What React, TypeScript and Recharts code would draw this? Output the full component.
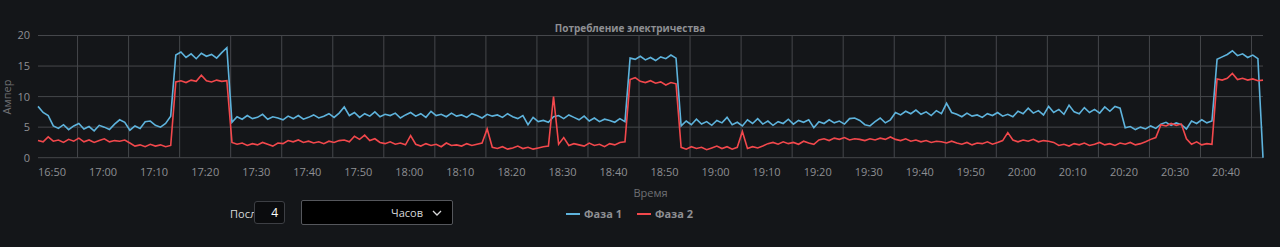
import React from "react";
import {
  LineChart,
  Line,
  XAxis,
  YAxis,
  CartesianGrid,
  Legend,
} from "recharts";

// sampling: one reading per minute, starting at 16:47:15
const startTime = "16:47:15";
const stepMinutes = 1;

const tickLabels = [
  "16:50", "17:00", "17:10", "17:20", "17:30", "17:40", "17:50", "18:00",
  "18:10", "18:20", "18:30", "18:40", "18:50", "19:00", "19:10", "19:20",
  "19:30", "19:40", "19:50", "20:00", "20:10", "20:20", "20:30", "20:40",
];
const yTicks = [0, 5, 10, 15, 20];

// Фаза 1, amps, split by hour
const phase1A = [
  8.4, 7.4, 6.9, 5.2, 4.8, 5.4, 4.6, 5.2, 5.6, 4.7,
  5.1, 4.4, 5.3, 5.0, 4.6, 5.5, 6.2, 5.8, 4.5, 5.2,
  4.8, 5.9, 6.0, 5.3, 5.0, 5.6, 6.8, 16.8, 17.3, 16.4,
  17.0, 16.2, 17.1, 16.6, 16.9, 16.3, 17.2, 18.0, 5.8, 6.7,
  6.3, 6.9, 6.4, 6.6, 7.1, 6.3, 6.7, 6.5, 6.2, 6.8,
  6.4, 6.9, 6.3, 6.6, 7.0, 6.5, 6.8, 7.2, 6.6, 7.3,
];
const phase1B = [
  8.3, 6.9, 7.4, 6.6, 7.2, 6.8, 7.5, 6.7, 7.1, 6.9,
  7.3, 6.5, 7.0, 7.4, 6.8, 7.2, 6.6, 7.6, 6.9, 7.1,
  6.7, 7.3, 6.8, 7.0, 6.6, 7.2, 6.9, 6.5, 7.1, 6.8,
  7.0, 6.6, 7.2, 6.7, 6.4, 6.9, 5.4, 6.6, 5.9, 6.1,
  5.8, 6.7, 6.9, 6.4, 7.0, 6.6, 6.2, 6.8, 6.0, 6.5,
  5.9, 6.3, 6.1, 5.8, 6.4, 5.9, 16.3, 16.1, 16.6, 16.0,
];
const phase1C = [
  16.4, 15.9, 16.5, 16.2, 16.8, 16.3, 5.2, 6.0, 5.4, 6.3,
  5.5, 5.9, 5.3, 6.1, 5.7, 6.6, 5.4, 5.8, 5.2, 6.2,
  5.6, 6.4, 5.5, 6.0, 5.3, 5.9, 5.6, 6.3, 5.5, 6.1,
  5.8, 6.2, 4.9, 5.9, 5.6, 6.2, 5.7, 6.0, 5.5, 6.4,
  6.5, 6.1, 5.4, 5.2, 5.9, 6.5, 5.7, 6.2, 7.4, 7.0,
  7.6, 7.2, 7.8, 7.1, 7.5, 6.9, 7.7, 7.2, 8.9, 7.4,
];
const phase1D = [
  7.1, 6.7, 7.3, 6.8, 7.0, 6.6, 7.2, 6.9, 7.4, 6.8,
  7.1, 6.7, 7.6, 7.2, 8.1, 7.3, 7.7, 7.0, 8.4, 7.4,
  7.9, 7.1, 8.6, 7.5, 7.2, 8.2, 7.4, 7.9, 7.3, 8.3,
  7.6, 8.4, 8.1, 4.9, 5.1, 4.6, 5.0, 4.7, 5.2, 4.8,
  5.5, 5.8, 5.3, 5.7, 5.4, 4.7, 6.0, 5.6, 6.2, 5.7,
  6.0, 16.1, 16.5, 16.9, 17.5, 16.7, 17.0, 16.4, 16.8, 16.2, 0,
];

// Фаза 2, amps, split by hour
const phase2A = [
  2.8, 2.6, 3.4, 2.7, 2.9, 2.5, 3.0, 2.7, 3.2, 2.6,
  2.9, 2.5, 2.8, 3.1, 2.6, 2.8, 2.7, 2.9, 2.4, 1.9,
  2.1, 1.8, 2.2, 1.9, 2.1, 1.8, 2.0, 12.4, 12.6, 12.3,
  12.7, 12.5, 13.5, 12.6, 12.4, 12.7, 12.5, 12.6, 2.5, 2.2,
  2.4, 2.0, 2.3, 2.1, 2.5, 2.2, 1.9, 2.4, 2.3, 2.8,
  2.6, 2.9, 2.5, 2.7, 2.4, 2.6, 2.3, 2.7, 2.5, 2.8,
];
const phase2B = [
  2.9, 2.6, 3.5, 3.0, 3.7, 2.8, 3.1, 2.5, 2.3, 2.6,
  2.2, 2.4, 2.1, 3.6, 2.2, 1.9, 2.3, 2.0, 2.2, 1.8,
  2.4, 2.0, 2.1, 1.9, 2.3, 2.0, 2.2, 2.4, 4.7, 1.7,
  1.5, 1.8, 1.4, 1.6, 1.9, 1.5, 1.7, 1.4, 1.6, 1.8,
  1.9, 10.0, 2.2, 3.3, 2.0, 2.3, 2.1, 1.9, 2.4, 2.0,
  2.2, 1.8, 2.3, 2.1, 2.5, 2.6, 12.8, 13.1, 12.5, 12.3,
];
const phase2C = [
  12.6, 12.2, 12.4, 11.9, 12.3, 12.1, 1.7, 1.4, 1.8, 1.5,
  1.7, 1.3, 1.6, 1.9, 1.5, 1.8, 1.4, 1.7, 4.3, 1.5,
  1.8, 1.6, 1.9, 2.3, 2.5, 2.2, 2.6, 2.3, 2.5, 2.2,
  2.7, 2.4, 2.2, 2.9, 3.1, 2.8, 3.2, 3.0, 3.3, 2.9,
  3.1, 3.0, 2.8, 3.1, 2.9, 3.2, 3.0, 3.4, 3.0, 2.8,
  3.1, 2.7, 2.9, 2.6, 2.8, 2.5, 2.7, 2.6, 2.4, 2.7,
];
const phase2D = [
  2.4, 2.2, 2.5, 2.1, 2.4, 2.3, 2.6, 2.2, 2.5, 2.8,
  4.1, 2.9, 2.6, 2.9, 2.7, 3.0, 2.6, 2.8, 2.7, 2.5,
  2.0, 2.2, 1.9, 2.3, 2.1, 2.4, 2.0, 2.2, 2.5, 2.1,
  2.3, 2.0, 2.4, 2.2, 2.5, 2.1, 2.3, 2.6, 3.0, 3.3,
  5.4, 5.2, 5.6, 5.3, 5.5, 3.1, 2.2, 2.6, 2.1, 2.3,
  2.2, 12.9, 12.7, 13.0, 13.8, 12.8, 13.0, 12.7, 12.9, 12.6, 12.7,
];

const toMinutes = (s: string) => {
  const [h, m, sec = 0] = s.split(":").map(Number);
  return h * 60 + m + sec / 60;
};
const fmt = (v: number) => {
  const h = Math.floor(v / 60);
  const m = Math.round(v - h * 60);
  return `${h}:${String(m).padStart(2, "0")}`;
};

const phase1 = [...phase1A, ...phase1B, ...phase1C, ...phase1D];
const phase2 = [...phase2A, ...phase2B, ...phase2C, ...phase2D];
const t0 = toMinutes(startTime);
const data = phase1.map((v, i) => ({
  t: t0 + i * stepMinutes,
  phase1: v,
  phase2: phase2[i],
}));
const tickValues = tickLabels.map(toMinutes);
// grid lines sit halfway between labels
const gridValues = tickValues.map((v) => v + 5);

const BG = "#141619";
const GRID = "#45474b";
const BLUE = "#5eb3dc";
const RED = "#f2484c";
const FONT = "'Open Sans', sans-serif";

const YTitle = () => (
  <text
    x={6}
    y={97}
    transform="rotate(-90, 6, 97)"
    textAnchor="middle"
    dominantBaseline="central"
    fill="#6f7074"
    fontSize={11}
    fontFamily={FONT}
  >
    Ампер
  </text>
);

const renderLegend = (props: any) => (
  <div style={{ display: "flex", gap: 15, fontFamily: FONT }}>
    {(props.payload || []).map((p: any) => (
      <div key={p.value} style={{ display: "flex", alignItems: "center" }}>
        <span
          style={{
            display: "inline-block",
            width: 14,
            height: 2,
            background: p.color,
            marginRight: 4,
          }}
        />
        <span style={{ color: "#8e8f93", fontSize: 11, fontWeight: 700 }}>
          {p.value}
        </span>
      </div>
    ))}
  </div>
);

export default function App() {
  return (
    <div style={{ position: "fixed", left: 0, top: 0, width: 1280, height: 247, background: BG }}>
      <div style={{ position: "relative", width: 1280, height: 247 }}>
        <div
          style={{
            position: "absolute",
            left: 0,
            top: 21,
            width: 1260,
            textAlign: "center",
            fontFamily: FONT,
            fontSize: 10,
            fontWeight: 700,
            lineHeight: "15px",
            color: "#8e8f93",
          }}
        >
          Потребление электричества
        </div>
        <LineChart
          width={1280}
          height={247}
          data={data}
          margin={{ top: 35.5, right: 17, left: 8, bottom: 0 }}
        >
          <CartesianGrid stroke={GRID} verticalValues={gridValues} />
          <XAxis
            dataKey="t"
            type="number"
            domain={[data[0].t, data[data.length - 1].t]}
            ticks={tickValues}
            tickFormatter={fmt}
            axisLine={false}
            tickLine={false}
            tickMargin={4}
            height={89.3}
            tick={{ fill: "#8e8f93", fontSize: 11, fontFamily: FONT }}
            label={{
              value: "Время",
              position: "insideTop",
              offset: 31,
              fill: "#6f7074",
              fontSize: 11,
              fontFamily: FONT,
            }}
          />
          <YAxis
            domain={[0, 20]}
            ticks={yTicks}
            width={30}
            axisLine={false}
            tickLine={false}
            tick={{ fill: "#8e8f93", fontSize: 11, fontFamily: FONT }}
            label={<YTitle />}
          />
          <Legend
            verticalAlign="middle"
            align="center"
            content={renderLegend}
            wrapperStyle={{ top: 206, left: 566, width: 200 }}
          />
          <Line
            type="linear"
            dataKey="phase1"
            name="Фаза 1"
            stroke={BLUE}
            strokeWidth={1.6}
            dot={false}
            isAnimationActive={false}
          />
          <Line
            type="linear"
            dataKey="phase2"
            name="Фаза 2"
            stroke={RED}
            strokeWidth={1.6}
            dot={false}
            isAnimationActive={false}
          />
        </LineChart>
        {/* period selector under the chart */}
        <div
          style={{
            position: "absolute",
            left: 230,
            top: 205,
            fontFamily: FONT,
            fontSize: 11,
            color: "#d8d9da",
            lineHeight: "18px",
          }}
        >
          Посл
        </div>
        <div
          style={{
            position: "absolute",
            left: 254,
            top: 201,
            width: 31,
            height: 23,
            boxSizing: "border-box",
            border: "1px solid #3d3f44",
            borderRadius: 3,
            background: "#0b0c0e",
            color: "#ffffff",
            fontFamily: FONT,
            fontSize: 12,
            lineHeight: "21px",
            textAlign: "right",
            paddingRight: 6,
          }}
        >
          4
        </div>
        <div
          style={{
            position: "absolute",
            left: 301,
            top: 200,
            width: 152,
            height: 25,
            boxSizing: "border-box",
            border: "1px solid #55575c",
            borderRadius: 2,
            background: "#000000",
            color: "#d8d9da",
            fontFamily: FONT,
            fontSize: 11,
            lineHeight: "23px",
          }}
        >
          <span style={{ position: "absolute", right: 29, top: 0 }}>Часов</span>
          <svg
            width={10}
            height={6}
            style={{ position: "absolute", right: 10, top: 9 }}
          >
            <polyline points="1,1 5,5 9,1" fill="none" stroke="#d8d9da" strokeWidth={1.3} />
          </svg>
        </div>
      </div>
    </div>
  );
}
